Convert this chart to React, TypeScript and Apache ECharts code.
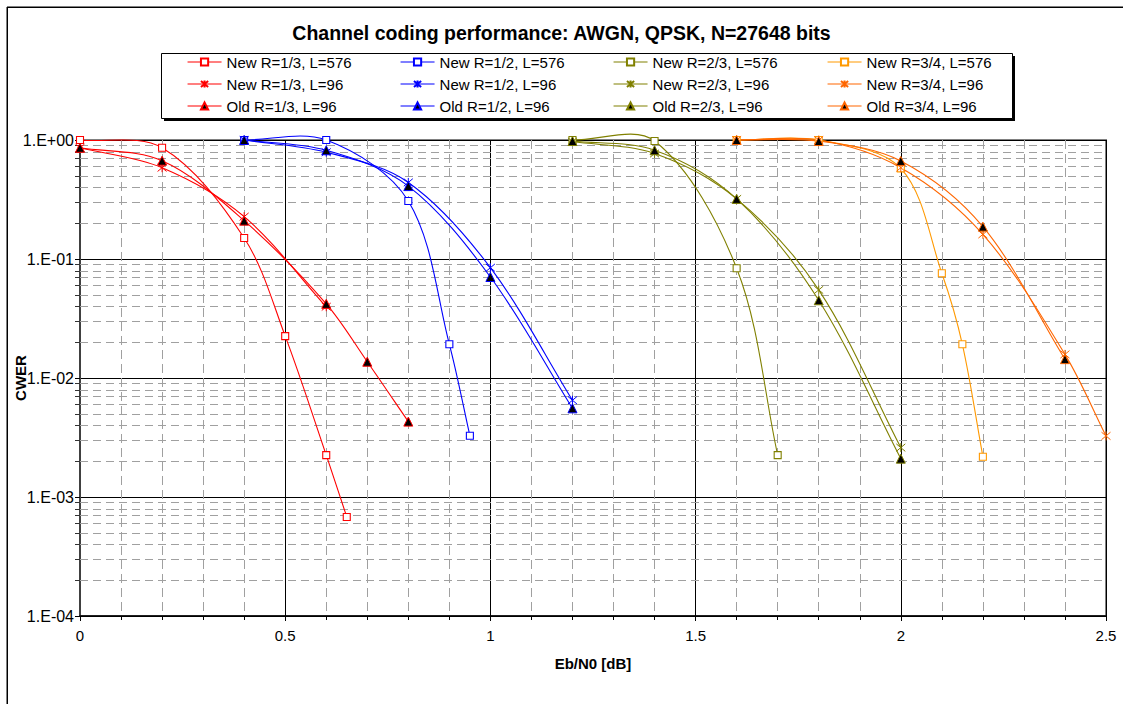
import React, { useEffect, useRef } from "react";
import * as echarts from "echarts";

const FONT = "'Liberation Sans', Arial, Helvetica, sans-serif";

// ---- Data (Eb/N0 in dB, CWER) ----
const x13New576 = [0, 0.2, 0.4, 0.5, 0.6, 0.65];
const y13New576 = [1.0, 0.86, 0.15, 0.0225, 0.00225, 0.00068];
const x13New96 = [0, 0.2, 0.4, 0.6];
const y13New96 = [0.86, 0.585, 0.227, 0.0397];
const x13Old96 = [0, 0.2, 0.4, 0.6, 0.7, 0.8];
const y13Old96 = [0.86, 0.67, 0.21, 0.042, 0.0137, 0.0043];

const x12New576 = [0.4, 0.6, 0.8, 0.9, 0.95];
const y12New576 = [1.0, 1.0, 0.307, 0.0192, 0.00327];
const x12New96 = [0.4, 0.6, 0.8, 1.0, 1.2];
const y12New96 = [1.0, 0.79, 0.44, 0.0845, 0.0065];
const x12Old96 = [0.4, 0.6, 0.8, 1.0, 1.2];
const y12Old96 = [1.0, 0.82, 0.41, 0.0706, 0.00556];

const x23New576 = [1.2, 1.4, 1.6, 1.7];
const y23New576 = [1.0, 0.98, 0.0835, 0.00225];
const x23New96 = [1.2, 1.4, 1.6, 1.8, 2.0];
const y23New96 = [0.97, 0.77, 0.32, 0.055, 0.0026];
const x23Old96 = [1.2, 1.4, 1.6, 1.8, 2.0];
const y23Old96 = [0.98, 0.82, 0.32, 0.045, 0.0021];

const x34New576 = [1.6, 1.8, 2.0, 2.1, 2.15, 2.2];
const y34New576 = [1.0, 1.0, 0.578, 0.0759, 0.0192, 0.00218];
const x34New96 = [1.6, 1.8, 2.0, 2.2, 2.4, 2.5];
const y34New96 = [1.0, 1.0, 0.585, 0.161, 0.0158, 0.00326];
const x34Old96 = [1.6, 1.8, 2.0, 2.2, 2.4];
const y34Old96 = [1.0, 0.98, 0.667, 0.187, 0.0144];

// minor log grid positions (2..9 per decade)
const yMinorTicks = [
  0.0002, 0.0003, 0.0004, 0.0005, 0.0006, 0.0007, 0.0008, 0.0009,
  0.002, 0.003, 0.004, 0.005, 0.006, 0.007, 0.008, 0.009,
  0.02, 0.03, 0.04, 0.05, 0.06, 0.07, 0.08, 0.09,
  0.2, 0.3, 0.4, 0.5, 0.6, 0.7, 0.8, 0.9,
];

const RED = "#FF0000";
const BLUE = "#0000FF";
const OLIVE = "#808000";
const LORANGE = "#FF9900";
const ORANGE = "#FF6600";
const LINE_W = 1.1;

const ASTER = "path://M0,0L10,10M10,0L0,10M5,-1L5,11";

type Kind = "sq" | "ast" | "tri";

const seriesDefs: { name: string; xs: number[]; ys: number[]; color: string; kind: Kind }[] = [
  { name: "New R=1/3, L=576", xs: x13New576, ys: y13New576, color: RED, kind: "sq" },
  { name: "New R=1/2, L=576", xs: x12New576, ys: y12New576, color: BLUE, kind: "sq" },
  { name: "New R=2/3, L=576", xs: x23New576, ys: y23New576, color: OLIVE, kind: "sq" },
  { name: "New R=3/4, L=576", xs: x34New576, ys: y34New576, color: LORANGE, kind: "sq" },
  { name: "New R=1/3, L=96", xs: x13New96, ys: y13New96, color: RED, kind: "ast" },
  { name: "New R=1/2, L=96", xs: x12New96, ys: y12New96, color: BLUE, kind: "ast" },
  { name: "New R=2/3, L=96", xs: x23New96, ys: y23New96, color: OLIVE, kind: "ast" },
  { name: "New R=3/4, L=96", xs: x34New96, ys: y34New96, color: ORANGE, kind: "ast" },
  { name: "Old R=1/3, L=96", xs: x13Old96, ys: y13Old96, color: RED, kind: "tri" },
  { name: "Old R=1/2, L=96", xs: x12Old96, ys: y12Old96, color: BLUE, kind: "tri" },
  { name: "Old R=2/3, L=96", xs: x23Old96, ys: y23Old96, color: OLIVE, kind: "tri" },
  { name: "Old R=3/4, L=96", xs: x34Old96, ys: y34Old96, color: ORANGE, kind: "tri" },
];

function itemStyleFor(kind: Kind, color: string) {
  return kind === "sq"
    ? { color: "#fff", borderColor: color, borderWidth: 1.1 }
    : kind === "tri"
    ? { color: "#000", borderColor: color, borderWidth: 1 }
    : { color: color, borderColor: color, borderWidth: 1 };
}

// markers (and legend entries) through a line series; the visible line itself is hidden
function markerSeries(d: (typeof seriesDefs)[number]) {
  return {
    type: "line",
    name: d.name,
    data: d.xs.map((x, i) => [x, d.ys[i]]),
    clip: false,
    z: 4,
    lineStyle: { color: d.color, width: LINE_W, opacity: 0 },
    symbol: d.kind === "sq" ? "rect" : d.kind === "tri" ? "triangle" : ASTER,
    symbolSize: d.kind === "sq" ? 7 : 9,
    itemStyle: itemStyleFor(d.kind, d.color),
    emphasis: { disabled: true },
  };
}

// Excel-like smoothed curve (unconstrained Bezier, tangents scaled by segment lengths),
// computed in pixel space from the axis coordinates
function curveSeries(d: (typeof seriesDefs)[number]) {
  return {
    type: "custom",
    name: "curve " + d.name,
    silent: true,
    clip: false,
    z: 3,
    data: d.xs.map((x, i) => [x, d.ys[i]]),
    renderItem: (params: any, api: any) => {
      if (params.dataIndexInside !== 0) return null;
      const n = params.dataInsideLength;
      const pts: number[][] = [];
      for (let i = 0; i < n; i++) pts.push(api.coord([api.value(0, i), api.value(1, i)]));
      const cpIn: number[][] = [];
      const cpOut: number[][] = [];
      const k = 1 / 3;
      for (let i = 0; i < n; i++) {
        const p = pts[i];
        const prev = pts[Math.max(0, i - 1)];
        const next = pts[Math.min(n - 1, i + 1)];
        const vx = next[0] - prev[0];
        const vy = next[1] - prev[1];
        const dPrev = Math.hypot(p[0] - prev[0], p[1] - prev[1]);
        const dNext = Math.hypot(next[0] - p[0], next[1] - p[1]);
        const sum = dPrev + dNext || 1;
        cpIn.push([p[0] - vx * k * (dPrev / sum), p[1] - vy * k * (dPrev / sum)]);
        cpOut.push([p[0] + vx * k * (dNext / sum), p[1] + vy * k * (dNext / sum)]);
      }
      const children: any[] = [];
      for (let i = 0; i < n - 1; i++) {
        children.push({
          type: "bezierCurve",
          shape: {
            x1: pts[i][0],
            y1: pts[i][1],
            cpx1: cpOut[i][0],
            cpy1: cpOut[i][1],
            cpx2: cpIn[i + 1][0],
            cpy2: cpIn[i + 1][1],
            x2: pts[i + 1][0],
            y2: pts[i + 1][1],
          },
          style: { stroke: d.color, lineWidth: LINE_W, fill: "none" },
        });
      }
      return { type: "group", children };
    },
  };
}

const legendCols = [
  ["New R=1/3, L=576", "New R=1/3, L=96", "Old R=1/3, L=96"],
  ["New R=1/2, L=576", "New R=1/2, L=96", "Old R=1/2, L=96"],
  ["New R=2/3, L=576", "New R=2/3, L=96", "Old R=2/3, L=96"],
  ["New R=3/4, L=576", "New R=3/4, L=96", "Old R=3/4, L=96"],
];
const legendLeft = [187, 400, 613, 827];

function fmtExp(v: number) {
  const e = Math.round(Math.log10(v));
  const s = e >= 0 ? "+" : "-";
  const a = Math.abs(e);
  return "1.E" + s + (a < 10 ? "0" + a : String(a));
}

export default function App() {
  const ref = useRef<HTMLDivElement>(null);
  useEffect(() => {
    document.body.style.margin = "0";
    document.body.style.overflow = "hidden";
    document.documentElement.style.overflow = "hidden";
    const chart = echarts.init(ref.current!, null, { renderer: "svg" });
    const colorOf: Record<string, string> = {};
    seriesDefs.forEach((d) => (colorOf[d.name] = d.color));

    const series: any[] = [
      ...seriesDefs.map(curveSeries),
      ...seriesDefs.map(markerSeries),
      {
        type: "custom",
        name: "minorGrid",
        silent: true,
        z: 1,
        clip: false,
        data: yMinorTicks.map((v) => [0, v]),
        renderItem: (_p: any, api: any) => {
          const v = api.value(1);
          const p0 = api.coord([0, v]);
          const p1 = api.coord([2.5, v]);
          const y = Math.round(p0[1]) + 0.5;
          return {
            type: "group",
            children: [
              {
                type: "line",
                shape: { x1: p0[0], y1: y, x2: p1[0], y2: y },
                style: { stroke: "#a0a0a0", lineWidth: 1, lineDash: [8, 5] },
              },
              {
                type: "line",
                shape: { x1: p0[0] - 5, y1: y, x2: p0[0], y2: y },
                style: { stroke: "#333", lineWidth: 1 },
              },
            ],
          };
        },
      },
    ];

    const option: any = {
      animation: false,
      backgroundColor: "#fff",
      textStyle: { fontFamily: FONT },
      title: {
        text: "Channel coding performance: AWGN, QPSK, N=27648 bits",
        left: "center",
        top: 17,
        textStyle: { fontFamily: FONT, fontSize: 19.5, fontWeight: "bold", color: "#000", lineHeight: 22 },
      },
      legend: legendCols.map((names, i) => ({
        data: names.map((n) => ({
          name: n,
          lineStyle: { color: colorOf[n], width: LINE_W, opacity: 1 },
        })),
        orient: "vertical",
        left: legendLeft[i],
        top: 53,
        padding: 0,
        itemWidth: 34,
        itemHeight: 9,
        itemGap: 4,
        selectedMode: false,
        z: 10,
        textStyle: { fontFamily: FONT, fontSize: 15, color: "#000", lineHeight: 18 },
      })),
      graphic: [
        {
          type: "line",
          z: -10,
          shape: { x1: 7, y1: 7.25, x2: 1123, y2: 7.25 },
          style: { stroke: "#000", lineWidth: 1.5 },
        },
        {
          type: "line",
          z: -10,
          shape: { x1: 7.25, y1: 7, x2: 7.25, y2: 704 },
          style: { stroke: "#000", lineWidth: 1.5 },
        },
        {
          type: "rect",
          z: 0,
          shape: { x: 164, y: 56, width: 851, height: 65 },
          style: { fill: "#000" },
        },
        {
          type: "rect",
          z: 1,
          shape: { x: 161.5, y: 53.5, width: 851, height: 65 },
          style: { fill: "#fff", stroke: "#000", lineWidth: 1 },
        },
      ],
      grid: {
        left: 80,
        right: 17,
        top: 140,
        bottom: 88,
        show: true,
        borderColor: "#808080",
        borderWidth: 2,
        backgroundColor: "transparent",
        containLabel: false,
        outerBoundsMode: "none",
      },
      xAxis: {
        type: "value",
        min: 0,
        max: 2.5,
        interval: 0.5,
        name: "Eb/N0 [dB]",
        nameLocation: "middle",
        nameGap: 40,
        nameMoveOverlap: false,
        nameTextStyle: { fontFamily: FONT, fontSize: 15, fontWeight: "bold", color: "#000" },
        axisLine: { show: true, onZero: false, lineStyle: { color: "#000", width: 1.5 } },
        axisTick: { show: true, length: 5, lineStyle: { color: "#000" } },
        minorTick: { show: true, splitNumber: 5, length: 4, lineStyle: { color: "#000" } },
        splitLine: { show: true, lineStyle: { color: "#000", width: 1 } },
        minorSplitLine: { show: true, lineStyle: { color: "#a0a0a0", width: 1, type: [9, 5] } },
        axisLabel: { fontFamily: FONT, fontSize: 15, color: "#000", margin: 12 },
      },
      yAxis: {
        type: "log",
        logBase: 10,
        min: 0.0001,
        max: 1,
        name: "CWER",
        nameLocation: "middle",
        nameGap: 52,
        nameMoveOverlap: false,
        nameTextStyle: { fontFamily: FONT, fontSize: 15, fontWeight: "bold", color: "#000" },
        axisLine: { show: true, lineStyle: { color: "#404040", width: 2 } },
        axisTick: { show: true, length: 5, lineStyle: { color: "#000" } },
        splitLine: { show: true, lineStyle: { color: "#000", width: 1 } },
        minorTick: { show: false },
        minorSplitLine: { show: false },
        axisLabel: { fontFamily: FONT, fontSize: 16, color: "#000", margin: 6, formatter: fmtExp },
      },
      series,
    };
    chart.setOption(option);
    return () => chart.dispose();
  }, []);
  return <div ref={ref} style={{ width: 1123, height: 704, overflow: "hidden" }} />;
}
